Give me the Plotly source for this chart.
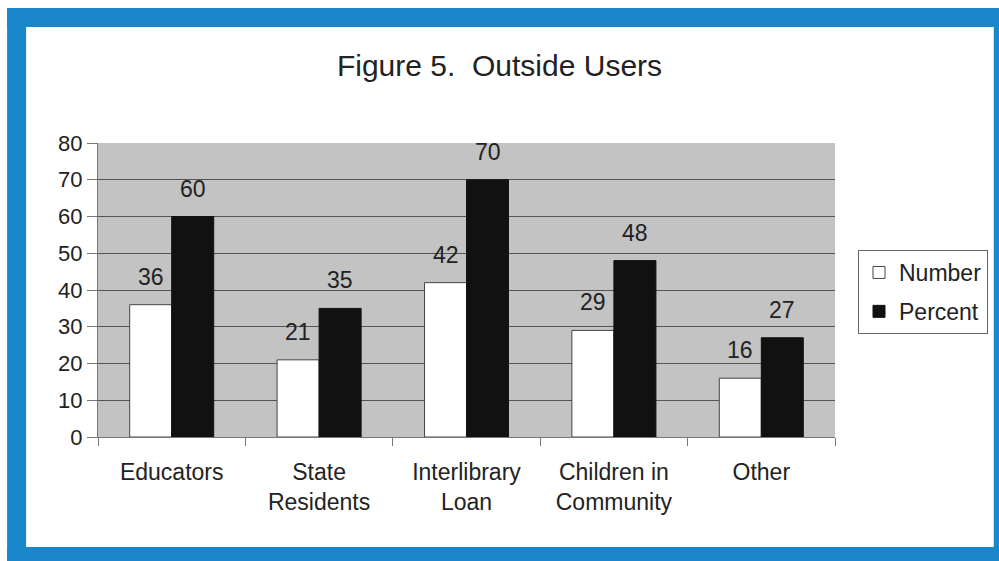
import plotly.graph_objects as go

categories = ["Educators", "State<br>Residents", "Interlibrary<br>Loan", "Children in<br>Community", "Other"]
number_values = [36, 21, 42, 29, 16]
percent_values = [60, 35, 70, 48, 27]
y_ticks = [0, 10, 20, 30, 40, 50, 60, 70, 80]

FONT = "Liberation Sans, Arial, sans-serif"
TXT = "#222222"

fig = go.Figure()
fig.add_trace(go.Bar(
    x=categories, y=number_values, name="Number",
    marker=dict(color="white", line=dict(color="#444444", width=1)),
    legendgroup="a",
))
fig.add_trace(go.Bar(
    x=categories, y=percent_values, name="Percent",
    marker=dict(color="#111111", line=dict(color="#111111", width=1)),
    legendgroup="b",
))

annotations = []
for c, v in zip(categories, number_values):
    annotations.append(dict(x=c, y=v, xref="x", yref="y", text=str(v), showarrow=False,
                            xshift=-21, yshift=13, yanchor="bottom",
                            font=dict(family=FONT, size=23, color=TXT)))
for c, v in zip(categories, percent_values):
    annotations.append(dict(x=c, y=v, xref="x", yref="y", text=str(v), showarrow=False,
                            xshift=21, yshift=13, yanchor="bottom",
                            font=dict(family=FONT, size=23, color=TXT)))

# blue frame (pixel -> paper conversions for plot area 98..836 x, 143..437 y)
def px(x):
    return (x - 98) / 738.0

def py(y):
    return (437 - y) / 294.0

BLUE = "#1b87cb"
shapes = [
    dict(type="rect", xref="paper", yref="paper", x0=px(7), x1=px(1010), y0=py(27), y1=py(8),
         fillcolor=BLUE, line=dict(width=0), layer="above"),
    dict(type="rect", xref="paper", yref="paper", x0=px(7), x1=px(26), y0=py(570), y1=py(8),
         fillcolor=BLUE, line=dict(width=0), layer="above"),
    dict(type="rect", xref="paper", yref="paper", x0=px(995), x1=px(1010), y0=py(570), y1=py(8),
         fillcolor=BLUE, line=dict(width=0), layer="above"),
    dict(type="rect", xref="paper", yref="paper", x0=px(7), x1=px(1010), y0=py(570), y1=py(547),
         fillcolor=BLUE, line=dict(width=0), layer="above"),
]

fig.update_layout(
    width=999, height=561,
    margin=dict(l=98, r=163, t=143, b=124),
    paper_bgcolor="white",
    plot_bgcolor="#c3c3c3",
    barmode="group",
    bargap=0.43,
    bargroupgap=0,
    font=dict(family=FONT, size=22, color=TXT),
    title=dict(text="Figure 5.&nbsp; Outside Users", x=0.5, xref="container", xanchor="center",
               y=1 - 65 / 561.0, yanchor="middle",
               font=dict(family=FONT, size=30, color=TXT)),
    showlegend=True,
    legend=dict(x=px(858), y=py(250), xanchor="left", yanchor="top",
                bgcolor="white", bordercolor="#666666", borderwidth=1,
                font=dict(family=FONT, size=23, color=TXT),
                tracegroupgap=6, traceorder="grouped", itemwidth=30),
    annotations=annotations,
    shapes=shapes,
)
fig.update_xaxes(
    type="category", showline=True, linecolor="#777777", linewidth=1,
    ticks="outside", tickson="boundaries", ticklen=8, tickcolor="#777777",
    showgrid=False, tickfont=dict(family=FONT, size=23, color=TXT),
    ticklabelstandoff=14,
)
fig.update_yaxes(
    range=[0, 80], tickvals=y_ticks, showline=True, linecolor="#777777", linewidth=1,
    ticks="outside", ticklen=10, tickcolor="#777777",
    showgrid=True, gridcolor="#555555", gridwidth=1, zeroline=False,
    tickfont=dict(family=FONT, size=22, color=TXT),
)

fig.write_html("out.html", config={"displayModeBar": False},
               post_script="document.body.style.margin='0';document.body.style.padding='0';")
